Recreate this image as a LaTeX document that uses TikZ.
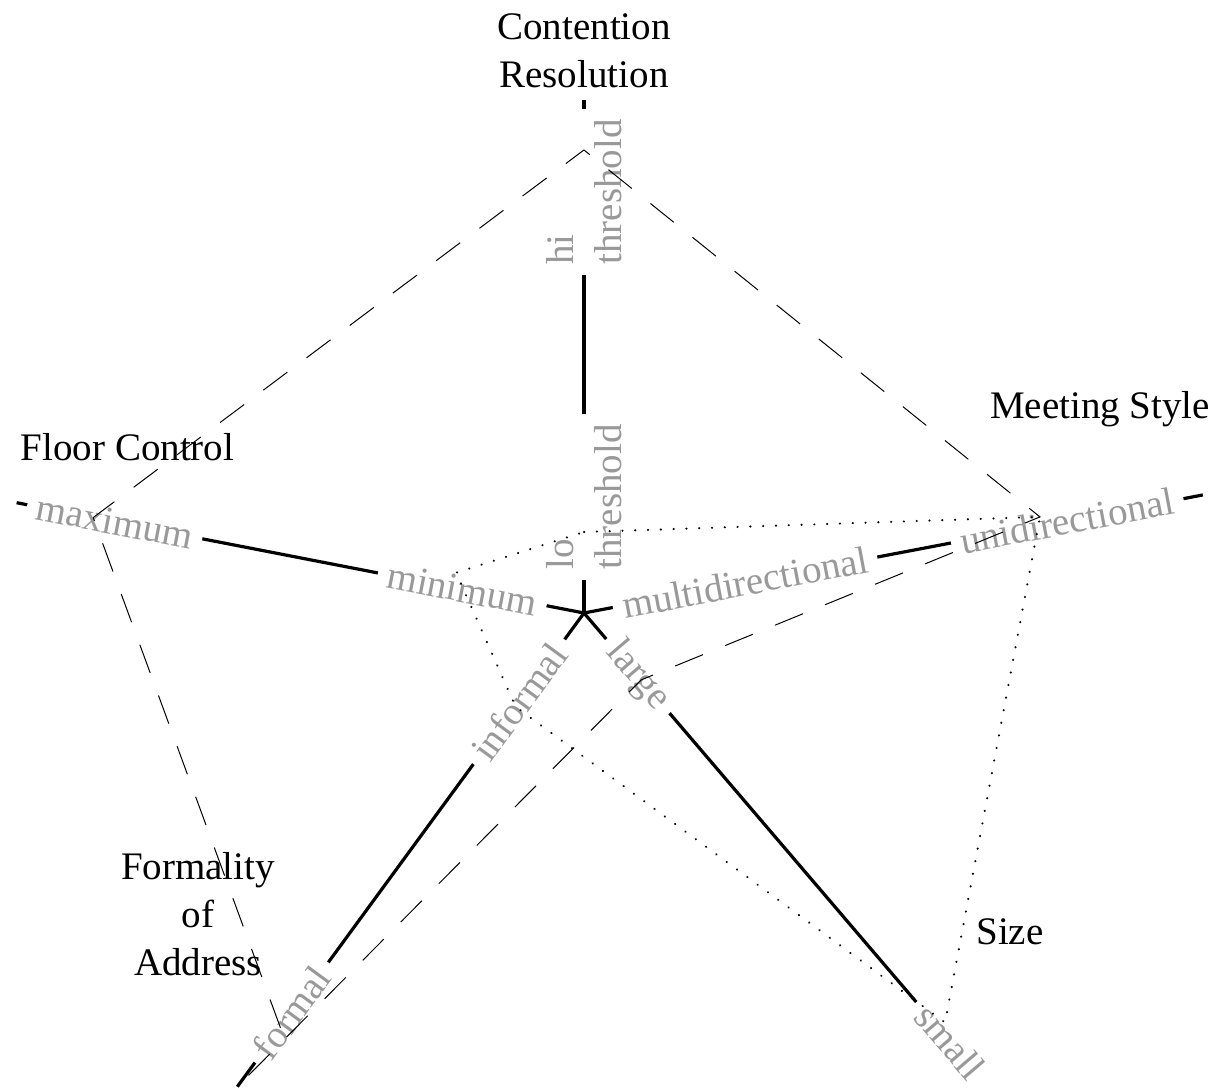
\documentclass[tikz,border=0pt]{standalone}
\usepackage{fontspec}
\setmainfont{Liberation Serif}
\usetikzlibrary{calc}

\begin{document}
\begin{tikzpicture}[x=0.5pt,y=0.5pt,
        every node/.style={font=\fontsize{19.5}{24}\selectfont},
        axis/.style={line width=1.6pt},
        value/.style={text=black!40, fill=white, inner sep=5pt},
        title/.style={align=center},
        high/.style={line width=0.5pt, dash pattern=on 15pt off 12pt},
        low/.style={line width=1.1pt, line cap=round, dash pattern=on 0.1pt off 6.3pt}]

            \useasboundingbox (-584,-476) rectangle (639,613);

            % axes
            \coordinate (o) at (0,0);
            \coordinate (cr) at (90:513);
            \coordinate (ms) at (10.8:630);
            \coordinate (sz) at (-49.5:560);
            \coordinate (fa) at (233.8:587);
            \coordinate (fc) at (169:578);

            \path[axis]
            (o) edge (cr)
            (o) edge (ms)
            (o) edge (sz)
            (o) edge (fa)
            (o) edge (fc)
            ;

            % values
            \node[value, rotate=90, anchor=west, align=left] (lo) at (90:33) {lo\\threshold};
            \node[value, rotate=90, anchor=west, align=left] (hi) at (90:338) {hi\\threshold};
            \node[value, rotate=10.8] (multi) at (10.8:164) {multidirectional};
            \node[value, rotate=10.8] (uni) at (10.8:492) {unidirectional};
            \node[value, rotate=-49.5] (large) at (-49.5:83) {large};
            \node[value, rotate=-49.5] (small) at (-49.5:564) {small};
            \node[value, rotate=53.8] (informal) at (233.8:110) {informal};
            \node[value, rotate=53.8] (formal) at (233.8:495) {formal};
            \node[value, rotate=-11] (minimum) at (169:124) {minimum};
            \node[value, rotate=-11] (maximum) at (169:478) {maximum};

            % profiles
            \coordinate (h1) at (233.8:514);
            \coordinate (h2) at (169:500);
            \coordinate (h3) at (90:463);
            \coordinate (h4) at (11.9:466);
            \coordinate (h5) at (-49.5:88);
            \draw[high] (h1) -- (h2) -- (h3) -- (h4) -- (h5) -- (fa);

            \coordinate (l1) at (90:81);
            \coordinate (l2) at (-48.6:546);
            \coordinate (l3) at (233.8:116);
            \coordinate (l4) at (162.5:134);
            \draw[low] (l1) -- (h4) -- (l2) -- (l3) -- (l4) -- cycle;

            % dimensions
            \node[title] (tcr) at (0,562) {Contention\\Resolution};
            \node[anchor=base] (tms) at (516,195) {Meeting Style};
            \node[anchor=base] (tsz) at (426,-331) {Size};
            \node[title] (tfa) at (-386,-301) {Formality\\of\\Address};
            \node[anchor=base] (tfc) at (-456.5,153) {Floor Control};

\end{tikzpicture}
\end{document}
